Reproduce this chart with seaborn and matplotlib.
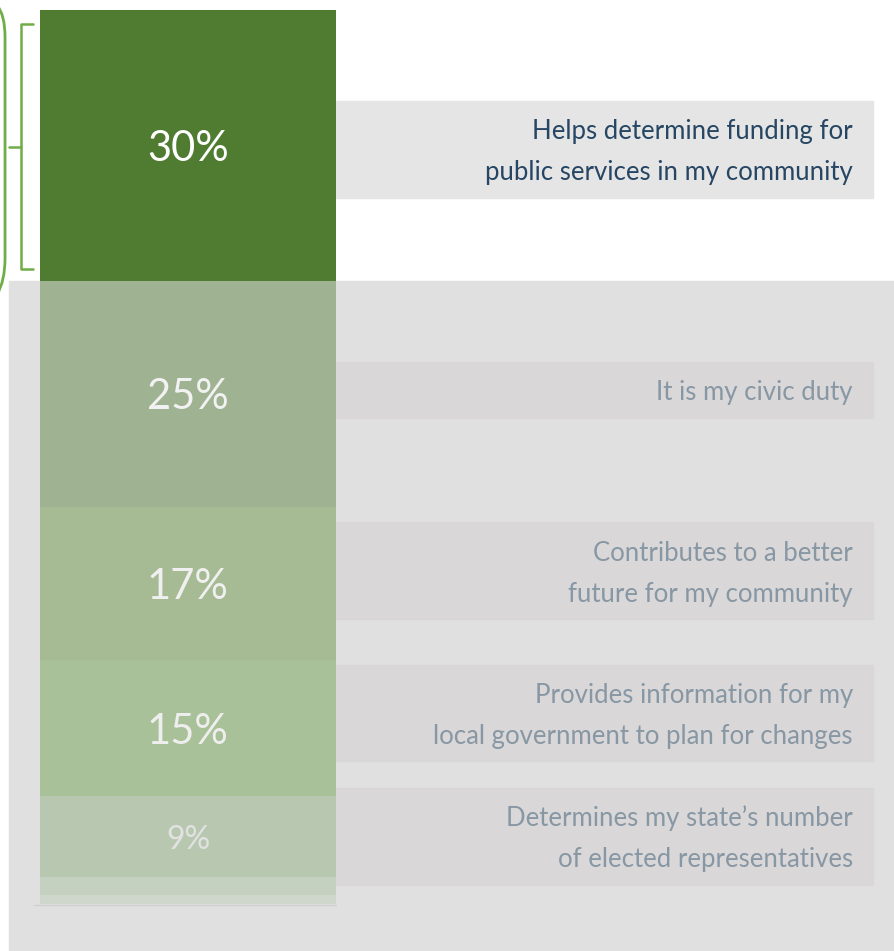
import pandas as pd
import matplotlib.pyplot as plt
import seaborn as sns
from matplotlib.patches import Rectangle, PathPatch
from matplotlib.path import Path

# Data: reasons for responding, share of respondents (%)
reasons = [
    "Helps determine funding for\npublic services in my community",
    "It is my civic duty",
    "Contributes to a better\nfuture for my community",
    "Provides information for my\nlocal government to plan for changes",
    "Determines my state\u2019s number\nof elected representatives",
    "Other",
    "Don't know",
]
shares = [30, 25, 17, 15, 9, 2, 1]
pct_labels = ["30%", "25%", "17%", "15%", "9%", "", ""]

# Styling
seg_colors = ["#507c32", "#9fb292", "#a6ba93", "#a9c198", "#b8c8b0", "#c4d0c0", "#cfd6cc"]
pct_colors = ["#ffffff", "#f2f2f2", "#f0f0f0", "#eeeeee", "#e2e2e2", "#ffffff", "#ffffff"]
pct_sizes = [30, 30, 30, 30, 23, 10, 10]
text_colors = ["#264663", "#8797a3", "#8797a3", "#8797a3", "#8797a3"]
box_colors = ["#e5e5e5", "#d9d7d8", "#d9d7d8", "#d9d7d8", "#d9d7d8"]
box_shift = [0.45, -0.4, -1.4, -1.65, 0.0]
accent = "#70ad47"

df = pd.DataFrame({"reason": reasons, "share": shares})
df["end"] = df["share"].cumsum()
df["mid"] = df["end"] - df["share"] / 2
df["group"] = "all"

sns.set_theme(style="white")
plt.rcParams["font.family"] = ["Lato", "DejaVu Sans"]

fig = plt.figure(figsize=(8.95, 9.51), dpi=100)
ax = fig.add_axes([0, 0, 1, 1])

# grey panel behind everything below the top segment
ax.add_patch(Rectangle((-0.605, df["end"][0]), 4, 200, color="#e0e0e0",
                       zorder=0, clip_on=False))

# stacked single column: draw cumulative bars, longest first
sns.barplot(data=df.iloc[::-1], x="group", y="end", hue="reason",
            hue_order=reasons[::-1], palette=dict(zip(reasons, seg_colors)),
            dodge=False, width=1, saturation=1, legend=False, ax=ax, zorder=2,
            linewidth=0, edgecolor="none")

for i, row in df.iterrows():
    if pct_labels[i]:
        ax.text(0, row["mid"] + 0.4, pct_labels[i], ha="center", va="center",
                fontsize=pct_sizes[i], color=pct_colors[i], zorder=3)

# label boxes on the right
for i in range(5):
    row = df.iloc[i]
    h = 10.7 if "\n" in row["reason"] else 6.2
    yc = row["mid"] + box_shift[i]
    ax.add_patch(Rectangle((0.5, yc - h / 2), 1.814, h,
                           color=box_colors[i], zorder=1))
    ax.text(2.247, yc + 0.3, row["reason"], ha="right", va="center",
            fontsize=18.5, color=text_colors[i], linespacing=1.8, zorder=3)

# bracket next to the top segment
ax.plot([-0.524, -0.564, -0.564, -0.524], [1.55, 1.55, 28.7, 28.7],
        color=accent, lw=1.8, solid_joinstyle="round")
ax.plot([-0.564, -0.605], [15.2, 15.2], color=accent, lw=1.8)

# edge of rounded outline cut off at the left border
outline = Path([(-0.645, -0.5), (-0.618, 0.5), (-0.618, 3), (-0.618, 27.5),
                (-0.618, 30), (-0.645, 31.5)],
               [Path.MOVETO, Path.CURVE3, Path.CURVE3, Path.LINETO,
                Path.CURVE3, Path.CURVE3])
ax.add_patch(PathPatch(outline, fill=False, edgecolor=accent, lw=2, zorder=3))

# thin baseline under the column
ax.plot([-0.52, 0.5], [df["end"].iloc[-1] + 0.1] * 2, color="#cfcfcf", lw=1, zorder=1)

ax.set_xlim(-0.635, 2.389)
ax.set_ylim(104.2, -1.107)
ax.axis("off")

fig.savefig("out.png", dpi=100, facecolor="white")
